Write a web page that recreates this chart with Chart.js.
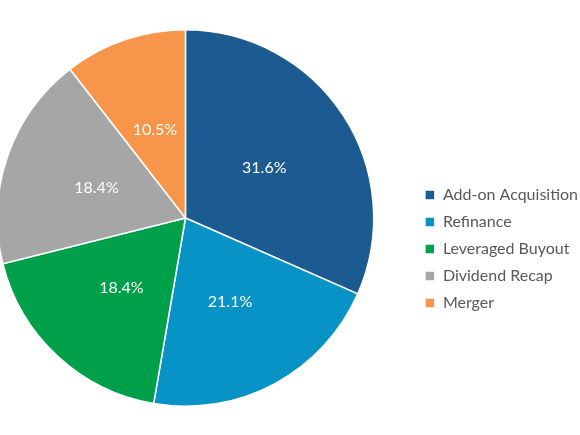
<!DOCTYPE html>
<html>
<head>
<meta charset="utf-8">
<script src="https://cdn.jsdelivr.net/npm/chart.js@4"></script>
<style>
html,body{margin:0;padding:0;background:#fff;}
#clip{width:580px;height:435px;position:relative;overflow:hidden;}
#wrap{width:631px;height:435px;position:absolute;left:-43px;top:0;}
</style>
</head>
<body>
<div id="clip"><div id="wrap"><canvas id="c"></canvas></div></div>
<script>
const categories = ["Add-on Acquisition", "Refinance", "Leveraged Buyout", "Dividend Recap", "Merger"];
const shares = [31.6, 21.1, 18.4, 18.4, 10.5];
const colors = ["#1c5a92", "#0793c5", "#00a04a", "#a6a6a6", "#f7964a"];

const sliceLabels = {
  id: 'sliceLabels',
  afterDatasetsDraw(chart) {
    const ctx = chart.ctx;
    const meta = chart.getDatasetMeta(0);
    ctx.save();
    ctx.fillStyle = '#ffffff';
    ctx.font = '16px Lato';
    ctx.textAlign = 'center';
    ctx.textBaseline = 'middle';
    meta.data.forEach((arc, i) => {
      const p = arc.tooltipPosition();
      ctx.fillText(shares[i].toFixed(1) + '%', p.x, p.y + 1);
    });
    ctx.restore();
  }
};

new Chart(document.getElementById('c'), {
  type: 'pie',
  data: {
    labels: categories,
    datasets: [{
      data: shares,
      backgroundColor: colors,
      borderColor: '#ffffff',
      borderWidth: 1.5
    }]
  },
  options: {
    responsive: true,
    maintainAspectRatio: false,
    animation: false,
    layout: { padding: { left: 0, right: 0, top: 29, bottom: 28 } },
    plugins: {
      tooltip: { enabled: false },
      legend: {
        position: 'right',
        align: 'center',
        title: { display: true, text: ' ', font: { size: 10, lineHeight: 1 }, padding: { top: 0, bottom: 52 } },
        labels: {
          boxWidth: 10,
          boxHeight: 10,
          padding: 11,
          color: '#595959',
          font: { family: 'Lato', size: 16 }
        }
      }
    }
  },
  plugins: [sliceLabels]
});
</script>
</body>
</html>
